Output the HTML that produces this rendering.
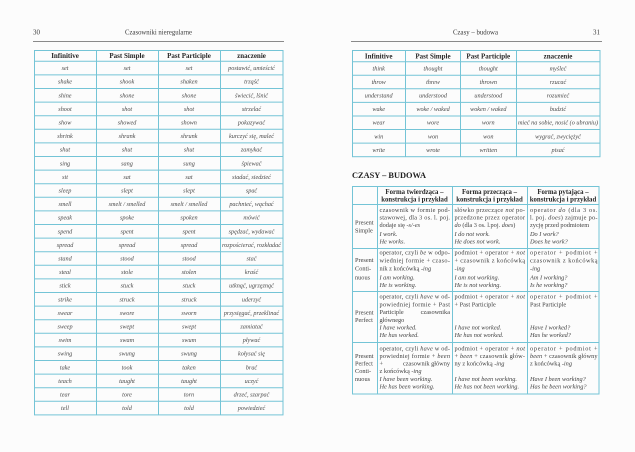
<!DOCTYPE html>
<html><head><meta charset="utf-8">
<style>
html,body{margin:0;padding:0;background:#fcfcfc;}
svg{display:block;font-family:"Liberation Serif","DejaVu Serif",serif;}
text{font-family:"Liberation Serif","DejaVu Serif",serif;}
.h{font-weight:bold;font-size:7px;fill:#262626;text-anchor:middle;}
.b{font-style:italic;font-size:6.2px;fill:#4a4a4a;text-anchor:middle;}
.t{font-size:7px;fill:#3a3a3a;}
.r{font-size:6.3px;fill:#404040;}
.i{font-style:italic;}
.bh{font-weight:bold;font-size:6.8px;fill:#262626;text-anchor:middle;}
.tl{stroke:#74c4d6;stroke-width:1;fill:none;}
</style></head>
<body>
<svg width="635" height="452" viewBox="0 0 635 452" xmlns="http://www.w3.org/2000/svg" font-family="'Liberation Serif', 'DejaVu Serif', serif">
<rect width="635" height="452" fill="#fcfcfc"/>

<!-- LEFT PAGE HEADER -->
<text class="t" x="33" y="34.5">30</text>
<text class="t" x="158.5" y="34.5" text-anchor="middle" textLength="67" lengthAdjust="spacingAndGlyphs">Czasowniki nieregularne</text>
<line x1="33" y1="41.5" x2="284" y2="41.5" stroke="#8a8a8a" stroke-width="0.9"/>

<!-- LEFT TABLE GRID -->
<rect class="tl" x="34.5" y="50.5" width="248.5" height="364.4"/>
<path class="tl" d="M96.5 50.5V414.9M158.5 50.5V414.9M220.5 50.5V414.9
M34.5 61.3H283M34.5 74.9H283M34.5 88.5H283M34.5 102.1H283M34.5 115.7H283M34.5 129.3H283M34.5 142.9H283M34.5 156.5H283M34.5 170.1H283M34.5 183.7H283M34.5 197.3H283M34.5 210.9H283M34.5 224.5H283M34.5 238.1H283M34.5 251.7H283M34.5 265.3H283M34.5 278.9H283M34.5 292.5H283M34.5 306.1H283M34.5 319.7H283M34.5 333.3H283M34.5 346.9H283M34.5 360.5H283M34.5 374.1H283M34.5 387.7H283M34.5 401.3H283"/>

<text class="h" x="65" y="58.2">Infinitive</text>
<text class="h" x="127" y="58.2">Past Simple</text>
<text class="h" x="189" y="58.2">Past Participle</text>
<text class="h" x="251.5" y="58.2">znaczenie</text>

<g class="b">
<text x="65" y="70.1">set</text><text x="127" y="70.1">set</text><text x="189" y="70.1">set</text><text x="251.5" y="70.1">postawić, umieścić</text>
<text x="65" y="83.7">shake</text><text x="127" y="83.7">shook</text><text x="189" y="83.7">shaken</text><text x="251.5" y="83.7">trząść</text>
<text x="65" y="97.3">shine</text><text x="127" y="97.3">shone</text><text x="189" y="97.3">shone</text><text x="251.5" y="97.3">świecić, lśnić</text>
<text x="65" y="110.9">shoot</text><text x="127" y="110.9">shot</text><text x="189" y="110.9">shot</text><text x="251.5" y="110.9">strzelać</text>
<text x="65" y="124.5">show</text><text x="127" y="124.5">showed</text><text x="189" y="124.5">shown</text><text x="251.5" y="124.5">pokazywać</text>
<text x="65" y="138.1">shrink</text><text x="127" y="138.1">shrank</text><text x="189" y="138.1">shrunk</text><text x="251.5" y="138.1">kurczyć się, maleć</text>
<text x="65" y="151.7">shut</text><text x="127" y="151.7">shut</text><text x="189" y="151.7">shut</text><text x="251.5" y="151.7">zamykać</text>
<text x="65" y="165.3">sing</text><text x="127" y="165.3">sang</text><text x="189" y="165.3">sung</text><text x="251.5" y="165.3">śpiewać</text>
<text x="65" y="178.9">sit</text><text x="127" y="178.9">sat</text><text x="189" y="178.9">sat</text><text x="251.5" y="178.9">siadać, siedzieć</text>
<text x="65" y="192.5">sleep</text><text x="127" y="192.5">slept</text><text x="189" y="192.5">slept</text><text x="251.5" y="192.5">spać</text>
<text x="65" y="206.1">smell</text><text x="127" y="206.1">smelt / smelled</text><text x="189" y="206.1">smelt / smelled</text><text x="251.5" y="206.1">pachnieć, wąchać</text>
<text x="65" y="219.7">speak</text><text x="127" y="219.7">spoke</text><text x="189" y="219.7">spoken</text><text x="251.5" y="219.7">mówić</text>
<text x="65" y="233.3">spend</text><text x="127" y="233.3">spent</text><text x="189" y="233.3">spent</text><text x="251.5" y="233.3">spędzać, wydawać</text>
<text x="65" y="246.9">spread</text><text x="127" y="246.9">spread</text><text x="189" y="246.9">spread</text><text x="251.5" y="246.9">rozpościerać, rozkładać</text>
<text x="65" y="260.5">stand</text><text x="127" y="260.5">stood</text><text x="189" y="260.5">stood</text><text x="251.5" y="260.5">stać</text>
<text x="65" y="274.1">steal</text><text x="127" y="274.1">stole</text><text x="189" y="274.1">stolen</text><text x="251.5" y="274.1">kraść</text>
<text x="65" y="287.7">stick</text><text x="127" y="287.7">stuck</text><text x="189" y="287.7">stuck</text><text x="251.5" y="287.7">utknąć, ugrzęznąć</text>
<text x="65" y="301.3">strike</text><text x="127" y="301.3">struck</text><text x="189" y="301.3">struck</text><text x="251.5" y="301.3">uderzyć</text>
<text x="65" y="314.9">swear</text><text x="127" y="314.9">swore</text><text x="189" y="314.9">sworn</text><text x="251.5" y="314.9">przysięgać, przeklinać</text>
<text x="65" y="328.5">sweep</text><text x="127" y="328.5">swept</text><text x="189" y="328.5">swept</text><text x="251.5" y="328.5">zamiatać</text>
<text x="65" y="342.1">swim</text><text x="127" y="342.1">swam</text><text x="189" y="342.1">swum</text><text x="251.5" y="342.1">pływać</text>
<text x="65" y="355.7">swing</text><text x="127" y="355.7">swung</text><text x="189" y="355.7">swung</text><text x="251.5" y="355.7">kołysać się</text>
<text x="65" y="369.3">take</text><text x="127" y="369.3">took</text><text x="189" y="369.3">taken</text><text x="251.5" y="369.3">brać</text>
<text x="65" y="382.9">teach</text><text x="127" y="382.9">taught</text><text x="189" y="382.9">taught</text><text x="251.5" y="382.9">uczyć</text>
<text x="65" y="396.5">tear</text><text x="127" y="396.5">tore</text><text x="189" y="396.5">torn</text><text x="251.5" y="396.5">drzeć, szarpać</text>
<text x="65" y="410.1">tell</text><text x="127" y="410.1">told</text><text x="189" y="410.1">told</text><text x="251.5" y="410.1">powiedzieć</text>
</g>

<!-- RIGHT PAGE HEADER -->
<text class="t" x="475.5" y="34.5" text-anchor="middle" textLength="45" lengthAdjust="spacingAndGlyphs">Czasy – budowa</text>
<text class="t" x="600" y="34.5" text-anchor="end">31</text>
<line x1="351" y1="41.5" x2="602" y2="41.5" stroke="#8a8a8a" stroke-width="0.9"/>

<!-- RIGHT TOP TABLE -->
<rect class="tl" x="352.5" y="50.5" width="247.5" height="106.2"/>
<path class="tl" d="M405.5 50.5V156.7M460.5 50.5V156.7M516.5 50.5V156.7
M352.5 61.7H600M352.5 75.3H600M352.5 88.8H600M352.5 102.4H600M352.5 116H600M352.5 129.5H600M352.5 143.1H600"/>

<text class="h" x="378.7" y="58.5">Infinitive</text>
<text class="h" x="433" y="58.5">Past Simple</text>
<text class="h" x="488.3" y="58.5">Past Participle</text>
<text class="h" x="558" y="58.5">znaczenie</text>

<g class="b">
<text x="378.7" y="70.5">think</text><text x="433" y="70.5">thought</text><text x="488.3" y="70.5">thought</text><text x="558" y="70.5">myśleć</text>
<text x="378.7" y="84">throw</text><text x="433" y="84">threw</text><text x="488.3" y="84">thrown</text><text x="558" y="84">rzucać</text>
<text x="378.7" y="97.6">understand</text><text x="433" y="97.6">understood</text><text x="488.3" y="97.6">understood</text><text x="558" y="97.6">rozumieć</text>
<text x="378.7" y="111.2">wake</text><text x="433" y="111.2">woke / waked</text><text x="488.3" y="111.2">woken / waked</text><text x="558" y="111.2">budzić</text>
<text x="378.7" y="124.7">wear</text><text x="433" y="124.7">wore</text><text x="488.3" y="124.7">worn</text><text x="558" y="124.7">mieć na sobie, nosić (o ubraniu)</text>
<text x="378.7" y="138.3">win</text><text x="433" y="138.3">won</text><text x="488.3" y="138.3">won</text><text x="558" y="138.3">wygrać, zwyciężyć</text>
<text x="378.7" y="151.9">write</text><text x="433" y="151.9">wrote</text><text x="488.3" y="151.9">written</text><text x="558" y="151.9">pisać</text>
</g>

<!-- HEADING -->
<text x="352" y="178" font-weight="bold" font-size="8.3px" fill="#1e1e1e" textLength="74" lengthAdjust="spacingAndGlyphs">CZASY – BUDOWA</text>

<!-- BIG TABLE -->
<rect class="tl" x="352.5" y="186.5" width="246.5" height="207.5"/>
<path class="tl" d="M377.5 186.5V394M452.5 186.5V394M527.5 186.5V394
M352.5 204.5H599M352.5 248.5H599M352.5 291.5H599M352.5 342.5H599"/>

<text class="bh" x="414.5" y="194">Forma twierdząca –</text>
<text class="bh" x="414.5" y="201.6">konstrukcja i przykład</text>
<text class="bh" x="489.5" y="194">Forma przecząca –</text>
<text class="bh" x="489.5" y="201.6">konstrukcja i przykład</text>
<text class="bh" x="563" y="194">Forma pytająca –</text>
<text class="bh" x="563" y="201.6">konstrukcja i przykład</text>

<g class="r">
<text x="355" y="224.7">Present</text>
<text x="355" y="232.5">Simple</text>
<text x="355" y="262">Present</text>
<text x="355" y="270.3">Conti-</text>
<text x="355" y="279.3">nuous</text>
<text x="355" y="314.7">Present</text>
<text x="355" y="322.2">Perfect</text>
<text x="355" y="358">Present</text>
<text x="355" y="365.7">Perfect</text>
<text x="355" y="373.2">Conti-</text>
<text x="355" y="380.9">nuous</text>

<text x="379.5" y="212" textLength="70.5" lengthAdjust="spacing">czasownik w formie pod-</text>
<text x="379.5" y="219.4" textLength="70.5" lengthAdjust="spacing">stawowej, dla 3 os. l. poj.</text>
<text x="379.5" y="226.8">dodaje się <tspan class="i">-s/-es</tspan></text>
<text x="379.5" y="236" class="i">I work.</text>
<text x="379.5" y="243.7" class="i">He works.</text>

<text x="454.5" y="212" textLength="70.5" lengthAdjust="spacing">słówko przeczące <tspan class="i">not</tspan> po-</text>
<text x="454.5" y="219.4" textLength="70.5" lengthAdjust="spacing">przedzone przez operator</text>
<text x="454.5" y="226.8"><tspan class="i">do</tspan> (dla 3 os. l.poj. <tspan class="i">does</tspan>)</text>
<text x="454.5" y="236" class="i">I do not work.</text>
<text x="454.5" y="243.7" class="i">He does not work.</text>

<text x="530" y="212" textLength="67.5" lengthAdjust="spacing">operator <tspan class="i">do</tspan> (dla 3 os.</text>
<text x="530" y="219.4" textLength="67.5" lengthAdjust="spacing">l. poj. <tspan class="i">does</tspan>) zajmuje po-</text>
<text x="530" y="226.8">zycję przed podmiotem</text>
<text x="530" y="236" class="i">Do I work?</text>
<text x="530" y="243.7" class="i">Does he work?</text>

<text x="379.5" y="254.3" textLength="70.5" lengthAdjust="spacing">operator, czyli <tspan class="i">be</tspan> w odpo-</text>
<text x="379.5" y="262.5" textLength="70.5" lengthAdjust="spacing">wiedniej formie + czaso-</text>
<text x="379.5" y="270.7">nik z końcówką <tspan class="i">-ing</tspan></text>
<text x="379.5" y="279.7" class="i">I am working.</text>
<text x="379.5" y="287" class="i">He is working.</text>

<text x="454.5" y="254.3" textLength="70.5" lengthAdjust="spacing">podmiot + operator + <tspan class="i">not</tspan></text>
<text x="454.5" y="262.5" textLength="70.5" lengthAdjust="spacing">+ czasownik z końcówką</text>
<text x="454.5" y="270.7" class="i">-ing</text>
<text x="454.5" y="279.7" class="i">I am not working.</text>
<text x="454.5" y="287" class="i">He is not working.</text>

<text x="530" y="254.3" textLength="67.5" lengthAdjust="spacing">operator + podmiot +</text>
<text x="530" y="262.5" textLength="67.5" lengthAdjust="spacing">czasownik z końcówką</text>
<text x="530" y="270.7" class="i">-ing</text>
<text x="530" y="279.7" class="i">Am I working?</text>
<text x="530" y="287" class="i">Is he working?</text>

<text x="379.5" y="298.7" textLength="70.5" lengthAdjust="spacing">operator, czyli <tspan class="i">have</tspan> w od-</text>
<text x="379.5" y="306.4" textLength="70.5" lengthAdjust="spacing">powiedniej formie + Past</text>
<text x="379.5" y="314.1">Participle</text>
<text x="450" y="314.1" text-anchor="end">czasownika</text>
<text x="379.5" y="321.8">głównego</text>
<text x="379.5" y="329.5" class="i">I have worked.</text>
<text x="379.5" y="337.2" class="i">He has worked.</text>

<text x="454.5" y="298.7" textLength="70.5" lengthAdjust="spacing">podmiot + operator + <tspan class="i">not</tspan></text>
<text x="454.5" y="306.4">+ Past Participle</text>
<text x="454.5" y="329.5" class="i">I have not worked.</text>
<text x="454.5" y="337.2" class="i">He has not worked.</text>

<text x="530" y="298.7" textLength="67.5" lengthAdjust="spacing">operator + podmiot +</text>
<text x="530" y="306.4">Past Participle</text>
<text x="530" y="329.5" class="i">Have I worked?</text>
<text x="530" y="337.2" class="i">Has he worked?</text>

<text x="379.5" y="350.3" textLength="70.5" lengthAdjust="spacing">operator, czyli <tspan class="i">have</tspan> w od-</text>
<text x="379.5" y="358" textLength="70.5" lengthAdjust="spacing">powiedniej formie + <tspan class="i">been</tspan></text>
<text x="379.5" y="365.7">+</text>
<text x="450" y="365.7" text-anchor="end">czasownik  główny</text>
<text x="379.5" y="373.2">z końcówką <tspan class="i">-ing</tspan></text>
<text x="379.5" y="380.9" class="i">I have been working.</text>
<text x="379.5" y="388.7" class="i">He has been working.</text>

<text x="454.5" y="350.3" textLength="70.5" lengthAdjust="spacing">podmiot + operator + <tspan class="i">not</tspan></text>
<text x="454.5" y="358" textLength="70.5" lengthAdjust="spacing">+ <tspan class="i">been</tspan> + czasownik głów-</text>
<text x="454.5" y="365.7">ny z końcówką <tspan class="i">-ing</tspan></text>
<text x="454.5" y="380.9" class="i">I have not been working.</text>
<text x="454.5" y="388.7" class="i">He has not been working.</text>

<text x="530" y="350.3" textLength="67.5" lengthAdjust="spacing">operator + podmiot +</text>
<text x="530" y="358" textLength="67.5" lengthAdjust="spacing"><tspan class="i">been</tspan> + czasownik główny</text>
<text x="530" y="365.7">z końcówką <tspan class="i">-ing</tspan></text>
<text x="530" y="380.9" class="i">Have I been working?</text>
<text x="530" y="388.7" class="i">Has he been working?</text>
</g>
</svg>
</body></html>
